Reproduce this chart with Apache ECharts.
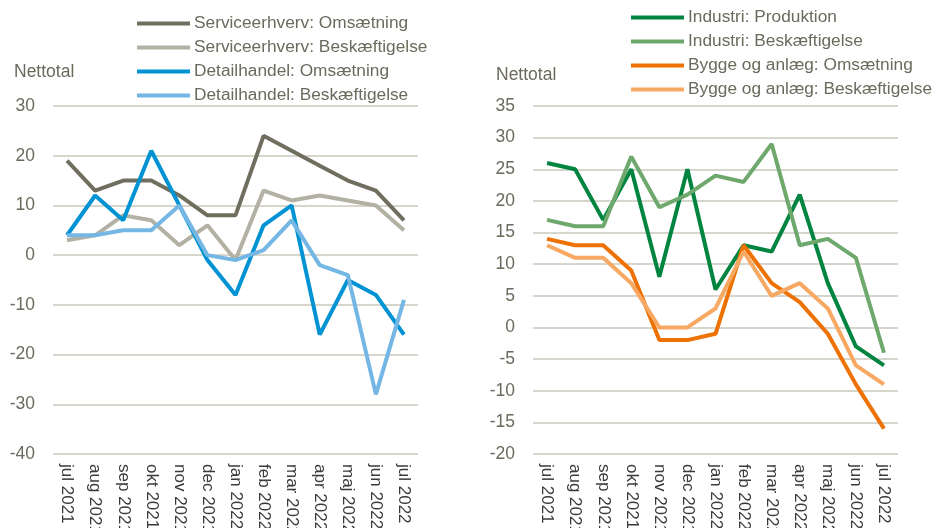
<!DOCTYPE html>
<html>
<head>
<meta charset="utf-8">
<script src="https://cdn.jsdelivr.net/npm/echarts@6/dist/echarts.min.js"></script>
<style>
  html, body { margin: 0; padding: 0; background: #fff; }
  #chart { width: 943px; height: 528px; }
</style>
</head>
<body>
<div id="chart"></div>
<script>
// måneder, jul 2021 - jul 2022
const months = ['jul 2021', 'aug 2021', 'sep 2021', 'okt 2021', 'nov 2021', 'dec 2021', 'jan 2022',
    'feb 2022', 'mar 2022', 'apr 2022', 'maj 2022', 'jun 2022', 'jul 2022'];

// venstre panel
const serviceOms = [19, 13, 15, 15, 12, 8, 8, 24, 21, 18, 15, 13, 7];
const serviceBesk = [3, 4, 8, 7, 2, 6, -1, 13, 11, 12, 11, 10, 5];
const detailOms = [4, 12, 7, 21, 10, -1, -8, 6, 10, -16, -5, -8, -16];
const detailBesk = [4, 4, 5, 5, 10, 0, -1, 1, 7, -2, -4, -28, -9];

// højre panel
const industriProd = [26, 25, 17, 25, 8, 25, 6, 13, 12, 21, 7, -3, -6];
const industriBesk = [17, 16, 16, 27, 19, 21, 24, 23, 29, 13, 14, 11, -4];
const byggeOms = [14, 13, 13, 9, -2, -2, -1, 13, 7, 4, -1, -9, -16];
const byggeBesk = [13, 11, 11, 7, 0, 0, 3, 12, 5, 7, 3, -6, -9];

const txt = '#6b6a5c';
const font = 'Liberation Sans, Arial, sans-serif';

var myChart = echarts.init(document.getElementById('chart'));

function xAx(gi) {
    return {
        type: 'category', gridIndex: gi, data: months, boundaryGap: true,
        axisLine: { show: false }, axisTick: { show: false },
        axisLabel: { rotate: -90, interval: 0, margin: 10, color: '#3a3a3a', fontSize: 17, fontFamily: font }
    };
}
function yAx(gi, min, max, step) {
    return {
        type: 'value', gridIndex: gi, min: min, max: max, interval: step,
        axisLine: { show: false }, axisTick: { show: false },
        axisLabel: { color: txt, fontSize: 17.5, fontFamily: font, margin: 18 },
        splitLine: { lineStyle: { color: '#c9c8bc', width: 1.5 } }
    };
}
function line(name, data, color, gi) {
    return {
        name: name, type: 'line', data: data, xAxisIndex: gi, yAxisIndex: gi,
        showSymbol: false, symbol: 'none', lineStyle: { width: 4, color: color }, itemStyle: { color: color },
        emphasis: { disabled: true }
    };
}
function legend(left, top, names) {
    return {
        data: names, orient: 'vertical', left: left, top: top, icon: 'rect',
        itemWidth: 53, itemHeight: 4, itemGap: 7, padding: 0,
        textStyle: { color: txt, fontSize: 17.3, fontFamily: font, lineHeight: 16, padding: [0, 0, 0, -1] }
    };
}

var option = {
    animation: false,
    grid: [
        { left: 53, width: 365, top: 106, bottom: 74, outerBoundsMode: 'none' },
        { left: 533, width: 365, top: 106, bottom: 74, outerBoundsMode: 'none' }
    ],
    xAxis: [xAx(0), xAx(1)],
    yAxis: [yAx(0, -40, 30, 10), yAx(1, -20, 35, 5)],
    legend: [
        legend(137, 15, ['Serviceerhverv: Omsætning', 'Serviceerhverv: Beskæftigelse', 'Detailhandel: Omsætning', 'Detailhandel: Beskæftigelse']),
        legend(631, 9, ['Industri: Produktion', 'Industri: Beskæftigelse', 'Bygge og anlæg: Omsætning', 'Bygge og anlæg: Beskæftigelse'])
    ],
    graphic: [
        { type: 'text', left: 14, top: 63, style: { text: 'Nettotal', fill: txt, fontSize: 17.5, fontFamily: font } },
        { type: 'text', left: 496, top: 66, style: { text: 'Nettotal', fill: txt, fontSize: 17.5, fontFamily: font } }
    ],
    series: [
        line('Serviceerhverv: Omsætning', serviceOms, '#706f5f', 0),
        line('Serviceerhverv: Beskæftigelse', serviceBesk, '#b3b1a3', 0),
        line('Detailhandel: Omsætning', detailOms, '#0093d3', 0),
        line('Detailhandel: Beskæftigelse', detailBesk, '#74b6e4', 0),
        line('Industri: Produktion', industriProd, '#00843f', 1),
        line('Industri: Beskæftigelse', industriBesk, '#6ea86c', 1),
        line('Bygge og anlæg: Omsætning', byggeOms, '#ee7203', 1),
        line('Bygge og anlæg: Beskæftigelse', byggeBesk, '#f7a862', 1)
    ]
};

myChart.setOption(option);
</script>
</body>
</html>
